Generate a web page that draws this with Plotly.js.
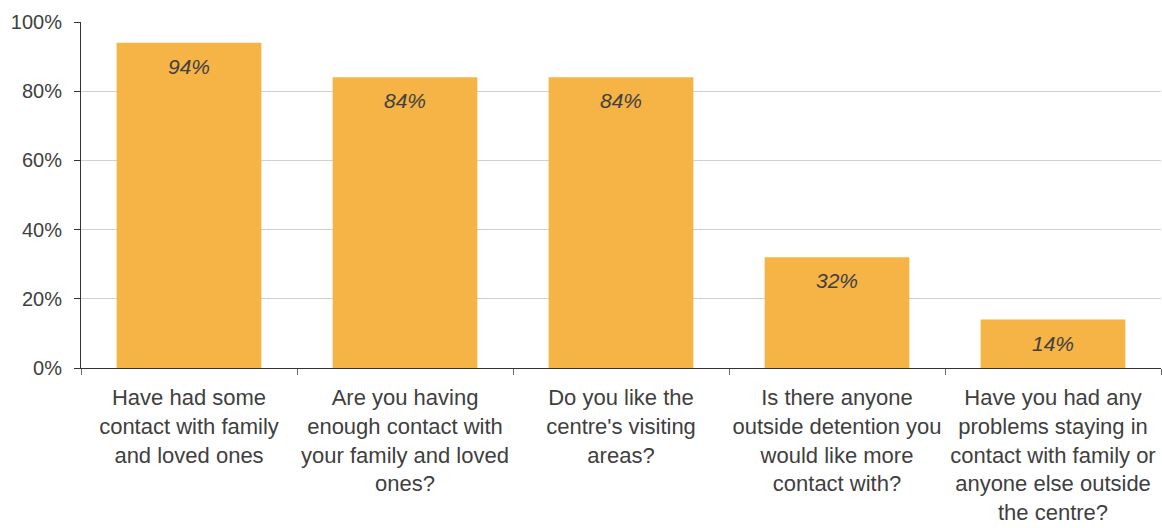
<!DOCTYPE html>
<html><head><meta charset="utf-8">
<script src="https://cdn.plot.ly/plotly-3.0.1.min.js"></script>
<style>html,body{margin:0;padding:0;background:#fff}#chart{width:1162px;height:528px}</style>
</head><body><div id="chart"></div>
<script>
const categories = [
  "Have had some<br>contact with family<br>and loved ones",
  "Are you having<br>enough contact with<br>your family and loved<br>ones?",
  "Do you like the<br>centre's visiting<br>areas?",
  "Is there anyone<br>outside detention you<br>would like more<br>contact with?",
  "Have you had any<br>problems staying in<br>contact with family or<br>anyone else outside<br>the centre?"
];
const values = [94, 84, 84, 32, 14];
const valueLabels = ["94%", "84%", "84%", "32%", "14%"];
const yTickVals = [0, 20, 40, 60, 80, 100];
const yTickText = ["0%", "20%", "40%", "60%", "80%", "100%"];

const font = "Liberation Sans, Arial, sans-serif";
const trace = {
  type: "bar", x: categories, y: values,
  marker: {color: "#F5B445"}, hoverinfo: "none"
};
const annotations = categories.map((c, i) => ({
  x: c, y: values[i], xref: "x", yref: "y", text: valueLabels[i],
  showarrow: false, yanchor: "top", yshift: -10,
  font: {family: font, size: 21, color: "#404040", style: "italic"}
}));
const layout = {
  width: 1162, height: 528,
  margin: {l: 81, r: 1, t: 22, b: 160},
  paper_bgcolor: "#fff", plot_bgcolor: "#fff",
  bargap: 0.33, showlegend: false,
  font: {family: font, size: 20, color: "#404040"},
  xaxis: {
    type: "category", tickson: "boundaries", ticks: "outside", ticklen: 6,
    tickcolor: "#666", tickwidth: 1, showline: true, linecolor: "#333", linewidth: 1,
    showgrid: false, ticklabelstandoff: 10, tickangle: 0,
    tickfont: {family: font, size: 22, color: "#404040"}
  },
  yaxis: {
    range: [0, 100], tickvals: yTickVals, ticktext: yTickText,
    ticks: "outside", ticklen: 6, tickcolor: "#333", showline: true, linecolor: "#333",
    linewidth: 1, gridcolor: "#d0d0d0", zeroline: false, ticklabelstandoff: 8,
    tickfont: {family: font, size: 20, color: "#404040"}
  },
  annotations: annotations
};
Plotly.newPlot("chart", [trace], layout, {displayModeBar: false, staticPlot: true});
</script></body></html>
